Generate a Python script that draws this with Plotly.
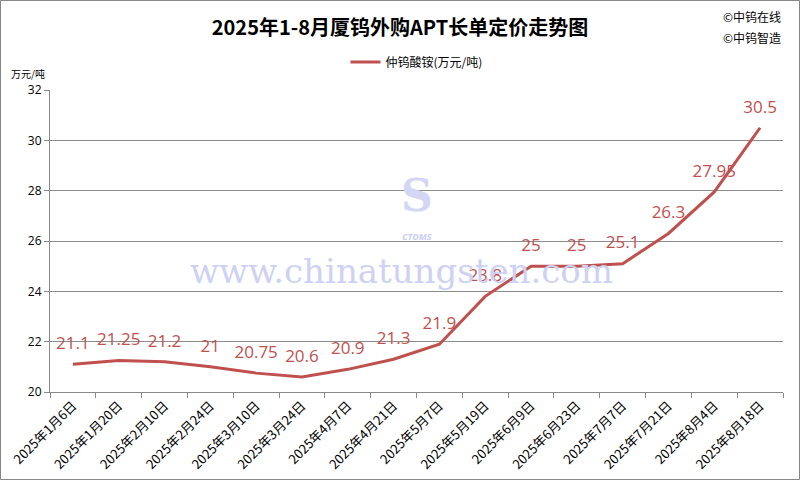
import plotly.graph_objects as go

dates = ["2025年1月6日", "2025年1月20日", "2025年2月10日", "2025年2月24日",
         "2025年3月10日", "2025年3月24日", "2025年4月7日", "2025年4月21日",
         "2025年5月7日", "2025年5月19日", "2025年6月9日", "2025年6月23日",
         "2025年7月7日", "2025年7月21日", "2025年8月4日", "2025年8月18日"]
apt = [21.1, 21.25, 21.2, 21, 20.75, 20.6, 20.9, 21.3,
       21.9, 23.8, 25, 25, 25.1, 26.3, 27.95, 30.5]
labels = ["21.1", "21.25", "21.2", "21", "20.75", "20.6", "20.9", "21.3",
          "21.9", "23.8", "25", "25", "25.1", "26.3", "27.95", "30.5"]
series_name = "仲钨酸铵(万元/吨)"

RED = "#C0504D"
CJK = "Noto Sans CJK SC"

fig = go.Figure()
fig.add_trace(go.Scatter(
    x=dates, y=apt, mode="lines+markers+text", name=series_name,
    showlegend=False,
    line=dict(color=RED, width=3),
    marker=dict(size=16, opacity=0, color=RED),
    text=labels, textposition="top center",
    textfont=dict(color=RED, size=17, family="Open Sans"),
    cliponaxis=False,
))
# legend entry
fig.add_trace(go.Scatter(
    x=[None], y=[None], mode="lines", name=series_name,
    line=dict(color=RED, width=3), showlegend=True,
))

fig.update_layout(
    width=800, height=480,
    margin=dict(l=50, r=17, t=90, b=88, autoexpand=False),
    paper_bgcolor="white", plot_bgcolor="white",
    font=dict(family=CJK, color="#000000", size=12),
    title=dict(text="<b>2025年1-8月厦钨外购APT长单定价走势图</b>",
               x=0.5, xanchor="center", y=0.942, yanchor="middle",
               font=dict(size=20, family=CJK)),
    showlegend=True,
    legend=dict(orientation="h", x=0.5, xanchor="center", y=1.093, yanchor="middle",
                font=dict(size=12, family=CJK)),
    xaxis=dict(type="category", range=[-0.5, len(dates) - 0.5],
               tickson="boundaries", ticks="outside", ticklen=5,
               tickcolor="#888888", showline=True, linecolor="#888888",
               showgrid=False, tickangle=-45, automargin=False,
               tickfont=dict(size=13, family=CJK)),
    yaxis=dict(range=[20, 32], dtick=2, ticks="outside", ticklen=5,
               tickcolor="#888888", showline=True, linecolor="#888888",
               showgrid=True, gridcolor="#8C8C8C", gridwidth=1, automargin=False,
               tickfont=dict(size=12, family="Open Sans")),
)

# watermark
fig.add_annotation(text="www.chinatungsten.com", xref="paper", yref="paper",
                   x=0.48, y=0.40, yanchor="middle", showarrow=False,
                   font=dict(family="DejaVu Serif", size=34, color="#CDD1F4"))
fig.add_annotation(text="<i><b>CTOMS</b></i>", xref="paper", yref="paper",
                   x=0.5, y=0.515, yanchor="middle", showarrow=False,
                   font=dict(family="Open Sans", size=9, color="#C9CDF2"))
fig.add_annotation(text="<b>S</b>", xref="paper", yref="paper",
                   x=0.5, y=0.65, yanchor="middle", showarrow=False,
                   font=dict(family="DejaVu Serif", size=44, color="#D3D6F4"))

# unit and copyright texts
fig.add_annotation(text="万元/吨", xref="paper", yref="paper",
                   x=-0.03, y=1.056, xanchor="center", yanchor="middle",
                   showarrow=False, font=dict(size=10, family=CJK))
fig.add_annotation(text="©中钨在线", xref="paper", yref="paper",
                   x=1.0, y=1.242, xanchor="right", yanchor="middle",
                   showarrow=False, font=dict(size=12, family=CJK))
fig.add_annotation(text="©中钨智造", xref="paper", yref="paper",
                   x=1.0, y=1.175, xanchor="right", yanchor="middle",
                   showarrow=False, font=dict(size=12, family=CJK))

# outer frame
fig.add_shape(type="rect", xref="paper", yref="paper",
              x0=-49.5 / 733, x1=(733 + 16.5) / 733,
              y0=-87.5 / 302, y1=(302 + 89.5) / 302,
              line=dict(color="#888888", width=1))

fig.write_html("out.html", config={"displayModeBar": False},
               post_script="document.body.style.margin='0';document.body.style.padding='0';")
